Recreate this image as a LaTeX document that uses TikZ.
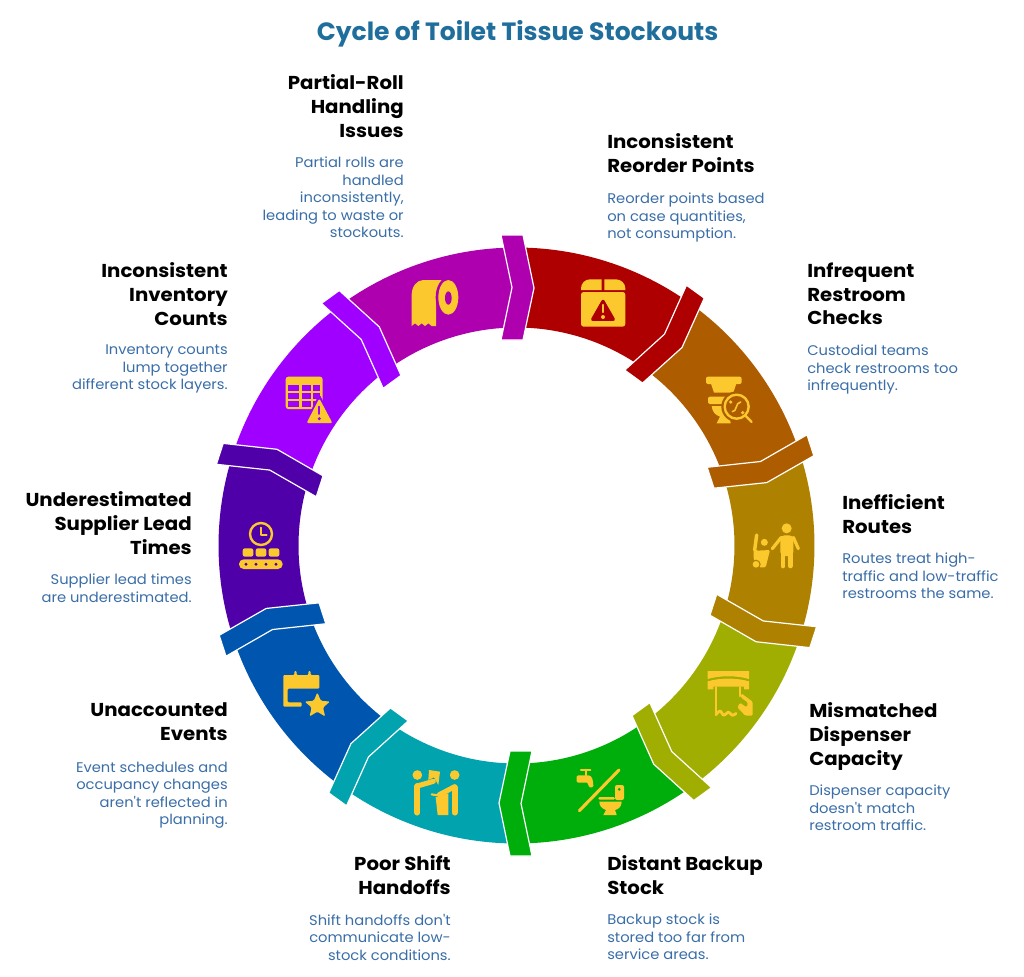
\documentclass[tikz,border=0pt]{standalone}
\usepackage{fontspec}
\setmainfont{Poppins}
\newfontfamily\hfam[FakeStretch=1.058]{Poppins}
\newfontfamily\bfam[FakeStretch=1.05]{Poppins}
\definecolor{ico}{HTML}{FBC92E}
\definecolor{cA}{HTML}{AE0000}
\definecolor{cB}{HTML}{AE5C00}
\definecolor{cC}{HTML}{AE8200}
\definecolor{cD}{HTML}{9FAE00}
\definecolor{cE}{HTML}{00AE0B}
\definecolor{cF}{HTML}{00A3AE}
\definecolor{cG}{HTML}{0055AE}
\definecolor{cH}{HTML}{4F00A8}
\definecolor{cI}{HTML}{A000FF}
\definecolor{cJ}{HTML}{AE00AE}
\definecolor{titlec}{HTML}{1F6E9C}
\definecolor{bodyc}{HTML}{3A6EA8}
\newcommand\fl{\vphantom{Ag}}
\tikzset{
  headtxt/.style={inner sep=0pt,text=black,font=\hfam\fontsize{14}{17.75}\selectfont\bfseries},
  bodytxt/.style={inner sep=0pt,text=bodyc,font=\bfam\fontsize{10.5}{13.15}\selectfont},
  hR/.style={headtxt,align=right,anchor=north east},
  hL/.style={headtxt,align=left,anchor=north west},
  bR/.style={bodytxt,align=right,anchor=north east},
  bL/.style={bodytxt,align=left,anchor=north west},
  il/.style={draw=ico,line cap=round,line join=round},
}
\begin{document}
\begin{tikzpicture}[x=.75pt,y=-.75pt]
\useasboundingbox (0,0) rectangle (1024,976);
\fill[white] (0,0) rectangle (1024,976);
% ring sectors
\begin{scope}[shift={(516.5,545.5)}]
\foreach \k/\c in {0/cA,1/cB,2/cC,3/cD,4/cE,5/cF,6/cG,7/cH,8/cI,9/cJ}{
  \pgfmathsetmacro\a{-90.3+36*\k}
  \pgfmathsetmacro\b{\a+36}
  \pgfmathsetmacro\ta{\a+1.75}
  \pgfmathsetmacro\tb{\b+1.75}
  \fill[\c] (\a:298) arc[start angle=\a,end angle=\b,radius=298] -- (\tb:257.6) -- (\b:218)
    arc[start angle=\b,end angle=\a,radius=218] -- (\ta:257.6) -- cycle;
}
\foreach \k/\c in {0/cJ,1/cA,2/cB,3/cC,4/cD,5/cE,6/cF,7/cG,8/cH,9/cI}{
  \filldraw[fill=\c,draw=white,line width=.9pt,rotate=-36*\k]
    (-15.5,-310.5) -- (6.5,-310.5) -- (17.5,-257.5) -- (6.5,-205.5) -- (-15.5,-205.5) -- (-4.5,-258) -- cycle;
}
\end{scope}
% title
\node[inner sep=0pt,text=titlec,font=\fontsize{18.77}{23}\selectfont\bfseries] (title) at (517.5,34) {Cycle of Toilet Tissue Stockouts};
% texts
\node[hR] (h1) at (404,74.5) {\fl Partial-Roll\\Handling\\Issues};
\node[bR] (b1) at (404,156.7) {\fl Partial rolls are\\handled\\inconsistently,\\leading to waste or\\stockouts.};
\node[hL] (h2) at (607,133.5) {\fl Inconsistent\\Reorder Points};
\node[bL] (b2) at (607,192.7) {\fl Reorder points based\\on case quantities,\\not consumption.};
\node[hL] (h3) at (807,262.5) {\fl Infrequent\\Restroom\\Checks};
\node[bL] (b3) at (807,344.7) {\fl Custodial teams\\check restrooms too\\infrequently.};
\node[hL] (h4) at (842,494.5) {\fl Inefficient\\Routes};
\node[bL] (b4) at (842,552.7) {\fl Routes treat high-\\traffic and low-traffic\\restrooms the same.};
\node[hL] (h5) at (809,702.5) {\fl Mismatched\\Dispenser\\Capacity};
\node[bL] (b5) at (809,784.7) {\fl Dispenser capacity\\doesn't match\\restroom traffic.};
\node[hL] (h6) at (607,855.5) {\fl Distant Backup\\Stock};
\node[bL] (b6) at (607,913.7) {\fl Backup stock is\\stored too far from\\service areas.};
\node[hR] (h7) at (451,855.5) {\fl Poor Shift\\Handoffs};
\node[bR] (b7) at (451,913.7) {\fl Shift handoffs don't\\communicate low-\\stock conditions.};
\node[hR] (h8) at (228,702.5) {\fl Unaccounted\\Events};
\node[bR] (b8) at (228,761.7) {\fl Event schedules and\\occupancy changes\\aren't reflected in\\planning.};
\node[hR] (h9) at (192,491.5) {\fl Underestimated\\Supplier Lead\\Times};
\node[bR] (b9) at (192,573.7) {\fl Supplier lead times\\are underestimated.};
\node[hR] (h10) at (228,262.5) {\fl Inconsistent\\Inventory\\Counts};
\node[bR] (b10) at (228,344.7) {\fl Inventory counts\\lump together\\different stock layers.};
% icons: zoom coordinates, first crop
\begin{scope}[shift={(480,220)},x=.25pt,y=-.25pt]
  % box with warning
  \fill[ico] (303,210) -- (303,205) .. controls (303,190) and (315,178) .. (330,178) -- (365,178) -- (365,210) -- cycle;
  \fill[ico] (373,210) -- (373,178) -- (408,178) .. controls (423,178) and (436,190) .. (436,205) -- (436,210) -- cycle;
  \fill[ico,rounded corners=2pt] (303,216) rectangle (436,320);
  \filldraw[fill=cA,draw=cA,line width=2.4pt,line join=round] (369,244) -- (400,298) -- (338,298) -- cycle;
  \draw[il,line width=1.8pt] (369,255) -- (369,276);
  \fill[ico] (369,291) circle (6);
  % toilet with magnifier
  \fill[ico,rounded corners=1.5pt] (678,470) -- (785,470) -- (785,492) -- (678,492) -- cycle;
  \fill[ico] (692,488) -- (770,488) -- (760,518) -- (702,518) -- cycle;
  \fill[ico,rounded corners=1.5pt] (684,530) rectangle (745,552);
  \fill[ico] (695,558) -- (745,558) -- (752,610) -- (710,610) -- (720,590) .. controls (705,585) and (697,575) .. (695,558) -- cycle;
  \fill[cB] (770,560) circle (46);
  \draw[il,line width=1.8pt] (770,560) circle (36);
  \draw[il,line width=1.7pt] (797,588) -- (815,606);
  \draw[il,line width=1.2pt] (757,575) .. controls (772,575) and (765,548) .. (782,546);
  \fill[ico] (752,546) circle (5.5);
  \fill[ico] (788,578) circle (5.5);
\end{scope}
% second crop
\begin{scope}[shift={(620,480)},x=.25pt,y=-.25pt]
  % person with cart
  \fill[ico] (500,145) circle (15);
  \fill[ico,rounded corners=3pt] (481,166) rectangle (520,228);
  \draw[il,line width=3.5pt] (489,222) -- (489,258) (511,222) -- (511,258);
  \draw[il,line width=2.4pt] (484,172) -- (457,206) (520,172) -- (535,206);
  \draw[il,line width=2.6pt] (410,165) -- (404,210);
  \fill[ico,rounded corners=1pt] (401,205) -- (410,212) -- (450,210) -- (437,262) -- (418,262) -- (401,238) -- cycle;
  \fill[cC] (433,191) circle (15);
  \fill[ico] (433,187) circle (10.5);
  \fill[cC] (408,253) circle (14);
  \fill[ico] (408,253) circle (10);
  % dispenser
  \fill[ico] (263,573) -- (387,573) -- (387,597) .. controls (350,586) and (300,586) .. (263,597) -- cycle;
  \fill[ico] (263,604) .. controls (300,593) and (350,593) .. (387,604) -- (387,628) -- (372,628) -- (372,620) -- (280,620) -- (280,628) -- (263,628) -- cycle;
  \draw[il,line width=2.2pt] (288,622) -- (288,703);
  \draw[il,line width=2.2pt] (360,622) -- (360,648);
  \draw[il,line width=2.1pt] plot[smooth,tension=.6] coordinates {(288,704) (300,693) (312,706) (325,696) (337,706) (348,700)};
  \fill[ico,rounded corners=1pt] (364,640) -- (398,665) -- (398,707) -- (376,707) -- (352,682) -- (360,668) -- (380,682) -- (384,668) -- (362,652) -- cycle;
\end{scope}
% third crop
\begin{scope}[shift={(320,650)},x=.25pt,y=-.25pt]
  % no tap near toilet
  \draw[il,line width=1.6pt] (783,359) -- (811,359) (797,359) -- (797,376);
  \fill[ico,rounded corners=1pt] (770,376) -- (805,376) .. controls (815,378) and (820,390) .. (820,412) -- (806,412) .. controls (806,402) and (802,398) .. (796,398) -- (770,398) -- cycle;
  \draw[il,line width=2.3pt] (778,482) -- (897,360);
  \fill[ico,rounded corners=1.5pt] (885,405) rectangle (912,450);
  \fill[cE] (898,418) circle (4.5);
  \fill[ico,rounded corners=1pt] (835,441) rectangle (885,449);
  \fill[ico] (838,455) -- (905,455) .. controls (905,470) and (895,478) .. (885,480) -- (890,495) -- (850,495) -- (858,480) .. controls (845,475) and (838,468) .. (838,455) -- cycle;
  % handoff
  \fill[ico] (292,375) circle (14.5);
  \fill[ico] (404,375) circle (14.5);
  \draw[il,line width=4.3pt] (292,408) -- (292,488) (404,412) -- (404,488);
  \draw[il,line width=3.8pt] (292,408) -- (340,394) (404,410) -- (358,434);
  \fill[ico] (327,360) -- (360,365) -- (355,405) -- (342,382) -- (325,390) -- cycle;
  \draw[il,line width=1.6pt] (335,433) -- (352,436);
  \fill[ico] (347,442) -- (385,430) -- (385,495) -- (353,495) -- cycle;
\end{scope}
% fourth crop
\begin{scope}[shift={(200,440)},x=.25pt,y=-.25pt]
  % calendar with star
  \fill[ico,rounded corners=.8pt] (250,705) -- (283,705) -- (283,693) -- (290,693) -- (290,705) -- (325,705) -- (325,693) -- (332,693) -- (332,705) -- (358,705) -- (358,746) -- (263,746) -- (263,787) -- (305,787) -- (305,800) -- (250,800) -- cycle;
  \fill[ico,shift={(352,797)},rounded corners=1pt] (0,-40) -- (10.6,-14.6) -- (38,-12.4) -- (17.1,5.6) -- (23.5,32.4) -- (0,18) -- (-23.5,32.4) -- (-17.1,5.6) -- (-38,-12.4) -- (-10.6,-14.6) -- cycle;
  % clock and conveyor
  \draw[il,line width=1.8pt] (183,282) circle (33);
  \draw[il,line width=1.4pt] (183,263) -- (183,285) -- (200,285);
  \foreach \bx in {128,167,206}{
    \fill[ico,rounded corners=1.6pt] (\bx,350) -- (\bx,325) -- (\bx+32,325) -- (\bx+32,350) -- cycle;
  }
  \fill[ico,rounded corners=3.5pt] (117,358) rectangle (248,387);
  \foreach \dx in {138,168,198,228}{\fill[cH] (\dx,372.5) circle (5);}
\end{scope}
% fifth crop
\begin{scope}[shift={(210,230)},x=.25pt,y=-.25pt]
  % table with warning
  \fill[ico,rounded corners=2pt] (227,440) rectangle (338,537);
  \foreach \cx/\cw in {235/33,276/26,308/23}{
    \foreach \cy in {466,490,513}{
      \fill[cI] (\cx,\cy) rectangle (\cx+\cw,\cy+17);
    }
  }
  \filldraw[fill=cI,draw=cI,line width=2pt,line join=round] (328,500) -- (370,584) -- (286,584) -- cycle;
  \filldraw[fill=ico,draw=ico,line width=1.6pt,line join=round] (328,512) -- (362,576) -- (295,576) -- cycle;
  \draw[cI,line width=1.4pt,line cap=round] (328,530) -- (328,552);
  \fill[cI] (328,566) circle (5);
  % toilet roll
  \fill[ico] (695,150) -- (640,150) .. controls (620,150) and (605,170) .. (605,195) -- (605,288) -- (615,280) -- (625,288) -- (635,280) -- (645,288) -- (655,280) -- (665,288) -- (678,288) -- (678,200) -- cycle;
  \fill[cJ] (715,202) ellipse (38 and 60);
  \fill[ico] (715,202) ellipse (30 and 52);
  \fill[cJ] (715,204) ellipse (10 and 20);
\end{scope}
\end{tikzpicture}
\end{document}
